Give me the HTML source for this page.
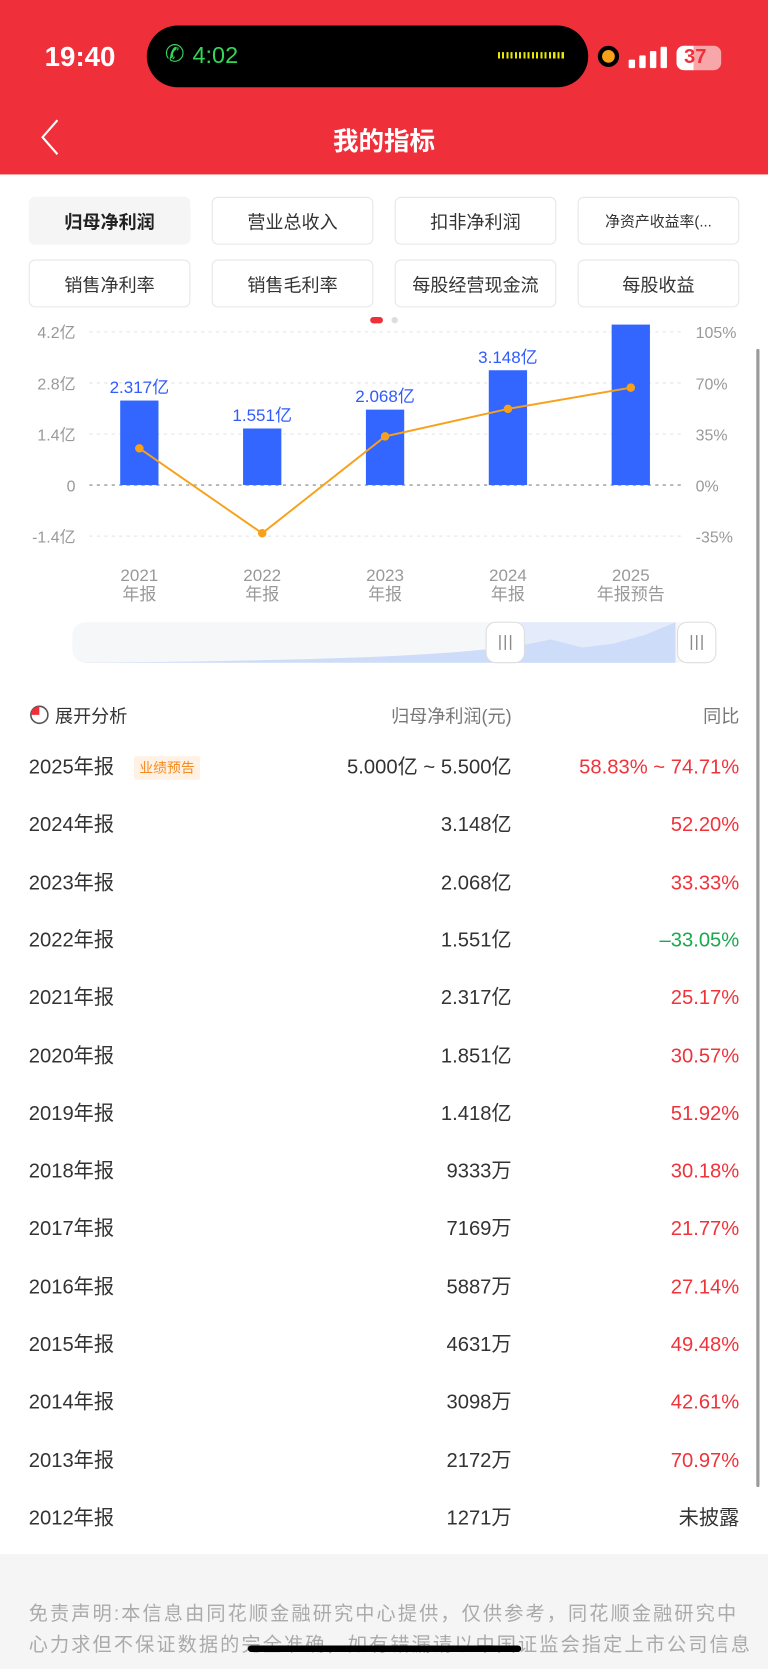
<!DOCTYPE html>
<html><head><meta charset="utf-8">
<style>
*{margin:0;padding:0;box-sizing:border-box}
html,body{width:768px;height:1669px;overflow:hidden;background:#fff;font-family:"Liberation Sans","Noto Sans CJK SC",sans-serif}
#wrap{position:absolute;left:0;top:0;width:722px;height:1569px;transform:scale(1.06371);transform-origin:0 0;overflow:hidden}
.abs{position:absolute}
.tab{position:absolute;width:152px;height:45px;border:1.5px solid #e6e6e6;border-radius:6px;display:flex;align-items:center;justify-content:center;font-size:17px;color:#333}
.row{position:absolute;left:0;width:722px;height:30px;font-size:19px;color:#333;line-height:30px}
.row span{line-height:30px;height:30px;display:block}
.row .y{position:absolute;left:27px;top:0}
.row .v{position:absolute;right:241px;top:0}
.row .p{position:absolute;right:27px;top:0;color:#f0333b}
</style></head><body>
<div id="wrap">
<div class="abs" style="left:0;top:0;width:722px;height:164px;background:#ef2f3a"></div>
<div class="abs" style="left:42px;top:38px;color:#fff;font-size:26px;font-weight:bold">19:40</div>
<div class="abs" style="left:138px;top:24px;width:415px;height:58px;background:#000;border-radius:29px">
 <div class="abs" style="left:17px;top:14px;color:#33d65a;font-size:22px">✆</div>
 <div class="abs" style="left:43px;top:15px;color:#33d65a;font-size:22px">4:02</div>
 <div class="abs" style="left:330px;top:25px;width:63px;height:6px;background:repeating-linear-gradient(90deg,#e8e800 0 2px,transparent 2px 4px)"></div>
</div>
<div class="abs" style="left:562px;top:43px;width:20px;height:20px;border-radius:50%;background:#f7a11a;border:4px solid #000"></div>
<div class="abs" style="left:591px;top:44px;width:36px;height:20px">
 <div class="abs" style="left:0;top:12px;width:6px;height:8px;background:#fff;border-radius:1px"></div>
 <div class="abs" style="left:10px;top:8px;width:6px;height:12px;background:#fff;border-radius:1px"></div>
 <div class="abs" style="left:20px;top:4px;width:6px;height:16px;background:#fff;border-radius:1px"></div>
 <div class="abs" style="left:30px;top:0;width:6px;height:20px;background:#fff;border-radius:1px"></div>
</div>
<div class="abs" style="left:636px;top:43px;width:42px;height:23px;border-radius:7px;background:#f7a6aa;overflow:hidden">
 <div class="abs" style="left:0;top:0;width:16px;height:23px;background:#fff"></div>
 <div class="abs" style="left:7px;top:0;color:#ef2f3a;font-size:19px;font-weight:bold">37</div>
</div>
<div class="abs" style="left:38px;top:112px;width:18px;height:33px">
 <svg width="18" height="34"><polyline points="16,1 2,17 16,33" fill="none" stroke="#fff" stroke-width="2"/></svg>
</div>
<div class="abs" style="left:0;width:722px;top:113px;text-align:center;color:#fff;font-size:24px;font-weight:bold">我的指标</div>

<div class="tab" style="left:27px;top:185px;background:#f5f5f5;border-color:#f5f5f5;font-weight:bold;color:#222">归母净利润</div>
<div class="tab" style="left:199px;top:185px">营业总收入</div>
<div class="tab" style="left:371px;top:185px">扣非净利润</div>
<div class="tab" style="left:543px;top:185px;font-size:14px">净资产收益率(...</div>
<div class="tab" style="left:27px;top:244px">销售净利率</div>
<div class="tab" style="left:199px;top:244px">销售毛利率</div>
<div class="tab" style="left:371px;top:244px">每股经营现金流</div>
<div class="tab" style="left:543px;top:244px">每股收益</div>

<div class="abs" style="left:348px;top:298px;width:12px;height:6px;border-radius:3px;background:#ef2f3a"></div>
<div class="abs" style="left:368px;top:298px;width:6px;height:6px;border-radius:3px;background:#ddd"></div>

<svg id="chart" class="abs" style="left:0;top:295px" width="722" height="340"></svg>

<div class="abs" style="left:711px;top:328px;width:3px;height:1070px;background:#9a9a9a;border-radius:2px"></div>

<div class="abs" style="left:27px;top:659px;font-size:17px;color:#333">
 <svg width="20" height="20" style="vertical-align:-3px"><circle cx="10" cy="10" r="8" fill="none" stroke="#555" stroke-width="1.5"/><path d="M10 10 L10 2 A8 8 0 0 0 2 10 Z" fill="#ef2f3a"/></svg> 展开分析</div>
<div class="abs" style="right:241px;top:659px;font-size:17px;color:#777">归母净利润(元)</div>
<div class="abs" style="right:27px;top:659px;font-size:17px;color:#777">同比</div>

<div id="rows"></div>

<div class="abs" style="left:0;top:1461px;width:722px;height:110px;background:#f5f5f5">
 <div class="abs" style="left:27px;top:42px;width:700px;font-size:18px;letter-spacing:2px;line-height:29px;color:#aaa;white-space:nowrap">免责声明:本信息由同花顺金融研究中心提供，仅供参考，同花顺金融研究中<br>心力求但不保证数据的完全准确，如有错漏请以中国证监会指定上市公司信息</div>
</div>
<div class="abs" style="left:233px;top:1547px;width:257px;height:6px;border-radius:3px;background:#000"></div>
</div>
<script>
const years=["2021","2022","2023","2024","2025"];
const periods=["年报","年报","年报","年报","年报预告"];
const profits=[2.317,1.551,2.068,3.148,4.4];
const profitLabels=["2.317亿","1.551亿","2.068亿","3.148亿",""];
const yoy=[25.17,-33.05,33.33,52.20,66.77];
const leftTicks=[4.2,2.8,1.4,0,-1.4];
const leftTickLabels=["4.2亿","2.8亿","1.4亿","0","-1.4亿"];
const rightTicks=[105,70,35,0,-35];
const rightTickLabels=["105%","70%","35%","0%","-35%"];
const sliderSeries=[0.2,0.4,0.8,1.2,1.9,2.8,3.6,4.6,6,7.4,9.3,11.6,14.5,18.5,23.2,31.5,20.7,26,37.5,55];

const NS="http://www.w3.org/2000/svg";
const svg=document.getElementById('chart');
const OY=295;
const yL=v=>(456-OY)-v/1.4*48;
const yR=v=>(456-OY)-v/35*48;
const xC=i=>131+i*115.5;
function mk(t,a){const e=document.createElementNS(NS,t);for(const k in a)e.setAttribute(k,a[k]);svg.appendChild(e);return e;}
leftTicks.forEach((t,i)=>{
 const g=mk('line',{x1:84,x2:640,y1:yL(t),y2:yL(t),stroke:t===0?'#aaa':'#e2e2e2','stroke-dasharray':'3,4','stroke-width':t===0?1.5:1});
 
 
 const l=mk('text',{x:71,y:yL(t)+6,'text-anchor':'end','font-size':15,fill:'#999'});
 l.textContent=leftTickLabels[i];
 
 
});
rightTicks.forEach((t,i)=>{
 const l=mk('text',{x:654,y:yR(t)+6,'font-size':15,fill:'#999'});
 l.textContent=rightTickLabels[i];
 
 
});
profits.forEach((v,i)=>{
 const top=Math.max(yL(v),10);
 const b=mk('rect',{x:xC(i)-18,y:top,width:36,height:yL(0)-top,fill:'#3366ff'});
 
 
 if(profitLabels[i]){
  const t=mk('text',{x:xC(i),y:top-7,'text-anchor':'middle','font-size':16,fill:'#2f5bff'});
  t.textContent=profitLabels[i];
  
  
 }
 const a=mk('text',{x:xC(i),y:251,'text-anchor':'middle','font-size':16,fill:'#999'});
 a.textContent=years[i];
 
 
 const p=mk('text',{x:xC(i),y:269,'text-anchor':'middle','font-size':16,fill:'#999'});
 p.textContent=periods[i];
 
 
});
const ln=mk('polyline',{points:yoy.map((v,i)=>xC(i)+','+yR(v)).join(' '),fill:'none',stroke:'#f7a11a','stroke-width':1.8});


yoy.forEach((v,i)=>{
 const c=mk('circle',{cx:xC(i),cy:yR(v),r:4,fill:'#f7a11a'});
 
 
});
const sb=mk('rect',{x:68,y:290,width:604,height:38,rx:12,fill:'#f6f7f9'});


const sel=mk('rect',{x:475,y:290,width:160,height:38,fill:'#e4ecfb'});


const sMax=Math.max(...sliderSeries);
const sx=i=>80+i*(555/(sliderSeries.length-1));
const sy=v=>328-v/sMax*38;
const area=mk('polygon',{points:'80,328 '+sliderSeries.map((v,i)=>sx(i)+','+sy(v)).join(' ')+' 635,328',fill:'#cddcf8'});


[475,655].forEach((x,i)=>{
 const h=mk('rect',{x:x-18,y:290,width:36,height:38,rx:9,fill:'#fff',stroke:'#ddd'});
 
 
 [-5,0,5].forEach(d=>mk('line',{x1:x+d,x2:x+d,y1:302,y2:316,stroke:'#888','stroke-width':1.3}));
});

const rowYears=["2025年报","2024年报","2023年报","2022年报","2021年报","2020年报","2019年报","2018年报","2017年报","2016年报","2015年报","2014年报","2013年报","2012年报"];
const rowValues=["5.000亿 ~ 5.500亿","3.148亿","2.068亿","1.551亿","2.317亿","1.851亿","1.418亿","9333万","7169万","5887万","4631万","3098万","2172万","1271万"];
const rowYoy=["58.83% ~ 74.71%","52.20%","33.33%","-33.05%","25.17%","30.57%","51.92%","30.18%","21.77%","27.14%","49.48%","42.61%","70.97%","未披露"];
const rows=document.getElementById('rows');
rowYears.forEach((y,i)=>{
 const r=document.createElement('div');
 r.className='row';
 r.style.top=(707+i*54.3)+'px';
 
 
 let col='#f0333b';
 if(rowYoy[i].startsWith('-'))col='#19a94f';
 if(rowYoy[i]==='未披露')col='#333';
 r.innerHTML='<span class="y">'+y+'</span><span class="v">'+rowValues[i]+'</span><span class="p" style="color:'+col+'">'+rowYoy[i].replace(/^-/,'–')+'</span>';
 if(i===0){
  const t=document.createElement('span');
  t.className='abs';
  
  
  t.style.cssText='left:126px;top:4px;height:22px;line-height:22px;padding:0 5px;background:#fff1e3;color:#f78a1e;font-size:13px;border-radius:2px';
  t.textContent='业绩预告';
  r.appendChild(t);
 }
 rows.appendChild(r);
});
</script>
</body></html>
